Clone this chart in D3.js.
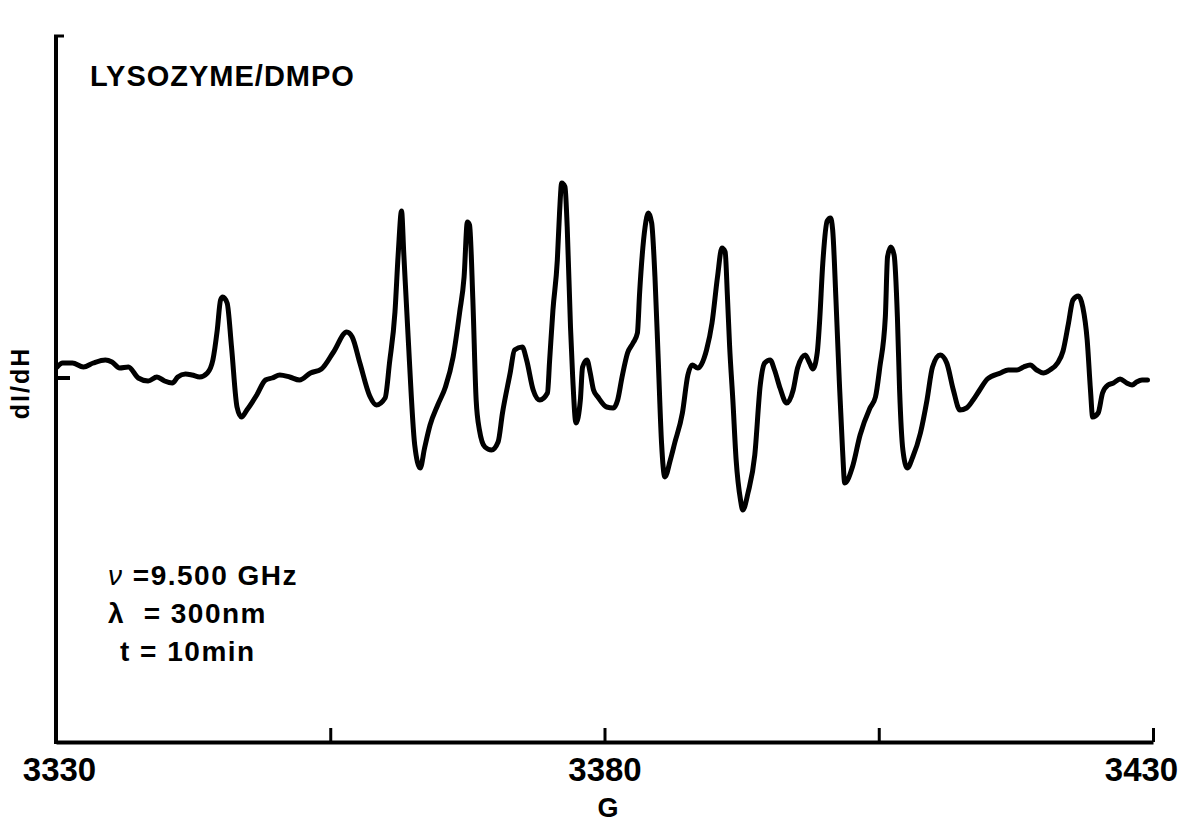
<!DOCTYPE html>
<html>
<head>
<meta charset="utf-8">
<script src="https://cdn.jsdelivr.net/npm/d3@7"></script>
<style>
  body { margin: 0; background: #fff; }
  svg { display: block; }
  text { font-family: "Liberation Sans", Arial, sans-serif; font-weight: bold; fill: #000; }
</style>
</head>
<body>
<svg id="chart" width="1185" height="824"></svg>
<script>
// EPR spectrum, field in gauss, signal in arbitrary units (dI/dH)
var fieldG = [
  3330.1, 3330.6, 3331.5, 3332.5, 3333.4, 3334.5, 3335.1, 3335.8, 3336.6, 3337.5,
  3338.4, 3339.2, 3339.9, 3340.6, 3341.1, 3341.8, 3342.4, 3343.1, 3343.8, 3344.3,
  3344.7, 3345.0, 3345.2, 3345.6, 3346.0, 3346.5, 3346.9, 3347.4, 3348.3, 3349.1,
  3349.7, 3350.4, 3351.3, 3352.2, 3353.2, 3354.2, 3355.3, 3356.5, 3357.0, 3357.7,
  3358.6, 3359.2, 3360.0, 3360.4, 3360.9, 3361.2, 3361.5, 3361.7, 3362.1, 3362.7,
  3363.2, 3363.6, 3364.1, 3364.8, 3365.5, 3366.2, 3366.8, 3367.2, 3367.5, 3367.7,
  3368.0, 3368.3, 3368.6, 3369.1, 3369.7, 3370.3, 3370.7, 3371.4, 3371.8, 3372.5,
  3372.9, 3373.5, 3374.1, 3374.8, 3375.0, 3375.3, 3375.7, 3375.9, 3376.1, 3376.4,
  3376.6, 3376.9, 3377.1, 3377.4, 3377.8, 3378.0, 3378.4, 3378.7, 3379.0, 3379.4,
  3380.2, 3380.8, 3381.2, 3381.6, 3382.1, 3382.6, 3383.0, 3383.2, 3383.7, 3384.0,
  3384.3, 3384.6, 3384.9, 3385.2, 3385.5, 3386.0, 3386.4, 3387.1, 3387.6, 3388.0,
  3388.5, 3389.3, 3389.8, 3390.3, 3390.7, 3391.0, 3391.2, 3391.4, 3391.7, 3392.0,
  3392.4, 3392.6, 3393.1, 3393.7, 3394.2, 3394.6, 3395.1, 3395.5, 3396.0, 3396.6,
  3397.2, 3397.6, 3398.3, 3398.7, 3399.0, 3399.4, 3399.6, 3399.9, 3400.3, 3400.6,
  3400.8, 3401.1, 3401.4, 3401.7, 3401.9, 3402.6, 3403.3, 3404.2, 3404.7, 3405.1,
  3405.6, 3405.8, 3406.1, 3406.4, 3406.7, 3406.9, 3407.2, 3407.6, 3408.1, 3408.8,
  3409.4, 3409.9, 3410.6, 3411.2, 3411.8, 3412.4, 3413.0, 3413.6, 3414.2, 3414.9,
  3416.1, 3416.8, 3417.6, 3418.2, 3418.8, 3419.4, 3420.0, 3420.6, 3421.3, 3421.8,
  3422.3, 3422.7, 3423.2, 3423.6, 3424.0, 3424.3, 3424.5, 3425.0, 3425.4, 3425.9,
  3426.4, 3427.0, 3427.6, 3428.1, 3428.5, 3429.0, 3429.5
];
var signal = [
  11, 15, 15, 11, 15, 18, 16, 10, 11, 0,
  -3, 1, -3, -5, 1, 4, 3, 1, 5, 18,
  48, 78, 81, 75, 31, -29, -39, -32, -17, -2,
  0, 3, 1, -2, 5, 9, 26, 46, 41, 15,
  -18, -27, -20, 15, 66, 125, 167, 125, 41, -67,
  -90, -70, -47, -27, -9, 21, 66, 101, 156, 153,
  78, -22, -52, -69, -72, -64, -35, 5, 28, 31,
  18, -12, -22, -15, 18, 68, 118, 165, 195, 191,
  151, 51, 1, -45, -22, 11, 18, 5, -12, -19,
  -29, -30, -22, 1, 25, 35, 45, 85, 151, 165,
  155, 101, 18, -65, -99, -82, -65, -35, 3, 13,
  10, 28, 55, 101, 130, 126, 83, 33, -22, -82,
  -122, -132, -114, -77, -7, 15, 18, 8, -10, -25,
  -12, 10, 23, 15, 9, 26, 55, 115, 157, 160,
  148, 78, -2, -72, -105, -89, -57, -30, -19, 11,
  61, 121, 131, 123, 61, -12, -72, -90, -79, -55,
  -22, 11, 23, 15, -12, -32, -30, -22, -12, -1,
  5, 8, 8, 11, 13, 8, 5, 8, 15, 27,
  55, 78, 82, 71, 38, -12, -39, -35, -15, -7,
  -5, -1, -5, -7, -4, -2, -2
];
var xTicks = [3330, 3355, 3380, 3405, 3430];
var xLabels = [3330, 3380, 3430];
var titleText = 'LYSOZYME/DMPO';
// symbol (italic or not) + rest of each parameter line
var paramSym = ['\u03bd', '\u03bb', 't'];
var paramRest = [' =9.500 GHz', '  = 300nm', ' = 10min'];

var svg = d3.select('#chart');

var x = d3.scaleLinear().domain([3330, 3430]).range([56, 1153]);
var y = d3.scaleLinear().domain([-364, 342]).range([742, 36]);

// x axis, ticks pointing up into the plot
var xAxis = d3.axisBottom(x)
  .tickValues(xTicks)
  .tickSizeInner(-14)
  .tickSizeOuter(0)
  .tickPadding(16)
  .tickFormat(function (d) { return xLabels.indexOf(d) >= 0 ? d : ''; });

var gx = svg.append('g')
  .attr('transform', 'translate(0,' + y.range()[0] + ')')
  .call(xAxis);
gx.select('.domain').attr('stroke', '#000').attr('stroke-width', 4);
gx.selectAll('.tick line').attr('stroke', '#000').attr('stroke-width', 3);
gx.selectAll('.tick text')
  .attr('font-size', '33px')
  .attr('font-family', '"Liberation Sans", Arial, sans-serif')
  .attr('font-weight', 'bold')
  .attr('dx', function (d) { return d == 3430 ? -12 : (d == 3330 ? 3 : 0); });

// y axis: bare line with a small cap at the top and a zero mark
svg.append('line')
  .attr('x1', x(3330)).attr('x2', x(3330))
  .attr('y1', y.range()[1]).attr('y2', y.range()[0] + 2)
  .attr('stroke', '#000').attr('stroke-width', 4);
svg.append('line')
  .attr('x1', x(3330) - 2).attr('x2', x(3330) + 8)
  .attr('y1', y.range()[1]).attr('y2', y.range()[1])
  .attr('stroke', '#000').attr('stroke-width', 3);
svg.append('line')
  .attr('x1', x(3330)).attr('x2', x(3330) + 14)
  .attr('y1', y(0)).attr('y2', y(0))
  .attr('stroke', '#000').attr('stroke-width', 4);

// spectrum
var pts = fieldG.map(function (g, i) { return [g, signal[i]]; });
var line = d3.line()
  .x(function (d) { return x(d[0]); })
  .y(function (d) { return y(d[1]); })
  .curve(d3.curveMonotoneX);
svg.append('path')
  .datum(pts)
  .attr('d', line)
  .attr('fill', 'none')
  .attr('stroke', '#000')
  .attr('stroke-width', 5)
  .attr('stroke-linejoin', 'round')
  .attr('stroke-linecap', 'round');

// labels
svg.append('text')
  .attr('x', 90).attr('y', 86)
  .attr('font-size', '29px')
  .attr('letter-spacing', '1px')
  .text(titleText);

svg.append('text')
  .attr('transform', 'translate(29,383) rotate(-90)')
  .attr('text-anchor', 'middle')
  .attr('font-size', '25px')
  .attr('letter-spacing', '2px')
  .text('dI/dH');

svg.append('text')
  .attr('x', 608).attr('y', 817)
  .attr('text-anchor', 'middle')
  .attr('font-size', '27px')
  .text('G');

var params = svg.selectAll('.param')
  .data(paramSym)
  .join('text')
  .attr('class', 'param')
  .attr('x', function (d, i) { return i == 2 ? 120 : 108; })
  .attr('y', function (d, i) { return 585 + 38 * i; })
  .attr('font-size', '28px')
  .attr('letter-spacing', '1.5px')
  .attr('xml:space', 'preserve')
  .style('white-space', 'pre');
params.append('tspan')
  .attr('font-style', function (d, i) { return i == 0 ? 'italic' : 'normal'; })
  .attr('font-weight', function (d, i) { return i == 0 ? 'normal' : 'bold'; })
  .text(function (d) { return d; });
params.append('tspan')
  .text(function (d, i) { return paramRest[i]; });
</script>
</body>
</html>
